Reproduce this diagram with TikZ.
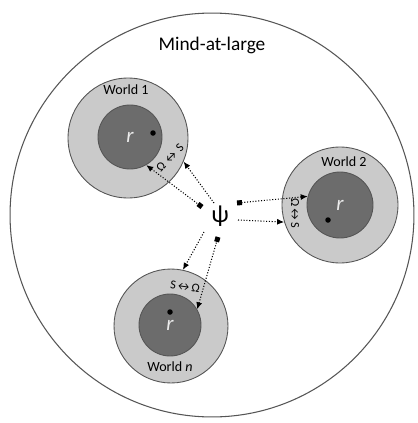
\documentclass[tikz,border=0pt]{standalone}
\usepackage{fontspec}
\setmainfont{Carlito}
\usepackage{xcolor}
\definecolor{ringgray}{RGB}{202,202,202}
\definecolor{coregray}{RGB}{108,108,108}
\definecolor{edgegray}{RGB}{85,85,85}
\usetikzlibrary{arrows.meta}

\begin{document}
\begin{tikzpicture}[x=0.02cm,y=-0.02cm,
  ring/.style={circle,draw=edgegray,fill=ringgray,line width=0.5pt,inner sep=0pt},
  core/.style={circle,draw=edgegray,fill=coregray,line width=0.5pt,inner sep=0pt},
  rlabel/.style={font=\fontsize{12}{12}\selectfont\itshape,text=white!85!gray,inner sep=1pt},
  wlabel/.style={font=\fontsize{8}{9}\selectfont},
  pair/.style={font=\fontsize{7}{8}\selectfont,inner sep=0pt},
  dot/.style={circle,fill=black,inner sep=0pt,minimum size=1.1mm},
  link/.style={densely dotted,line width=0.6pt},
  tolink/.style={link,-{Latex[length=1.4mm,width=1.2mm]}},
  fromlink/.style={link,{Latex[length=1.4mm,width=1.2mm]}-{Square[length=1mm,width=1mm]}}
]
  \useasboundingbox (0,0) rectangle (417,423);
  % Mind-at-large
  \node[circle,draw=edgegray,line width=0.6pt,minimum size=8.08cm,inner sep=0pt] (mind) at (212,215) {};
  \node[font=\fontsize{11}{13}\selectfont] (title) at (212,45) {Mind-at-large};
  % World 1
  \node[ring,minimum size=2.4cm] (w1) at (128,138) {};
  \node[core,minimum size=1.28cm] (c1) at (130,137) {};
  \node[rlabel] (r1) at (c1) {r};
  \node[wlabel] (l1) at (126,90) {World 1};
  \node[dot] (d1) at (153,133) {};
  \node[pair,rotate=45] (s1) at (170,158) {Ω\,↔\,S};
  % World 2
  \node[ring,minimum size=2.32cm] (w2) at (340,205) {};
  \node[core,minimum size=1.32cm] (c2) at (340,205) {};
  \node[rlabel] (r2) at (c2) {r};
  \node[wlabel] (l2) at (344,162) {World 2};
  \node[dot] (d2) at (328,220) {};
  \node[pair,rotate=-90] (s2) at (295,213) {Ω↔S};
  % World n
  \node[ring,minimum size=2.28cm] (wn) at (171,326) {};
  \node[core,minimum size=1.24cm] (cn) at (170,325) {};
  \node[rlabel] (rn) at (cn) {r};
  \node[wlabel] (ln) at (170,367) {World \textit{n}};
  \node[dot] (dn) at (170,312) {};
  \node[pair,rotate=-8] (sn) at (185,287) {S↔Ω};
  % Psi
  \node[font=\fontsize{14}{14}\selectfont] (psi) at (220,216) {ψ};
  \coordinate (p1) at (202,207);
  \coordinate (p2) at (237,203);
  \coordinate (pn) at (218,237);
  \coordinate (q1) at (214,203);
  \coordinate (q2) at (238,220);
  \coordinate (qn) at (204,232);
  % Arrows
  \draw[fromlink] (c1.-60) -- (p1);
  \draw[tolink] (q1) -- (w1.-23);
  \draw[fromlink] (c2.165) -- (p2);
  \draw[tolink] (q2) -- (w2.197);
  \draw[fromlink] (cn.30) -- (pn);
  \draw[tolink] (qn) -- (wn.78);
\end{tikzpicture}
\end{document}
